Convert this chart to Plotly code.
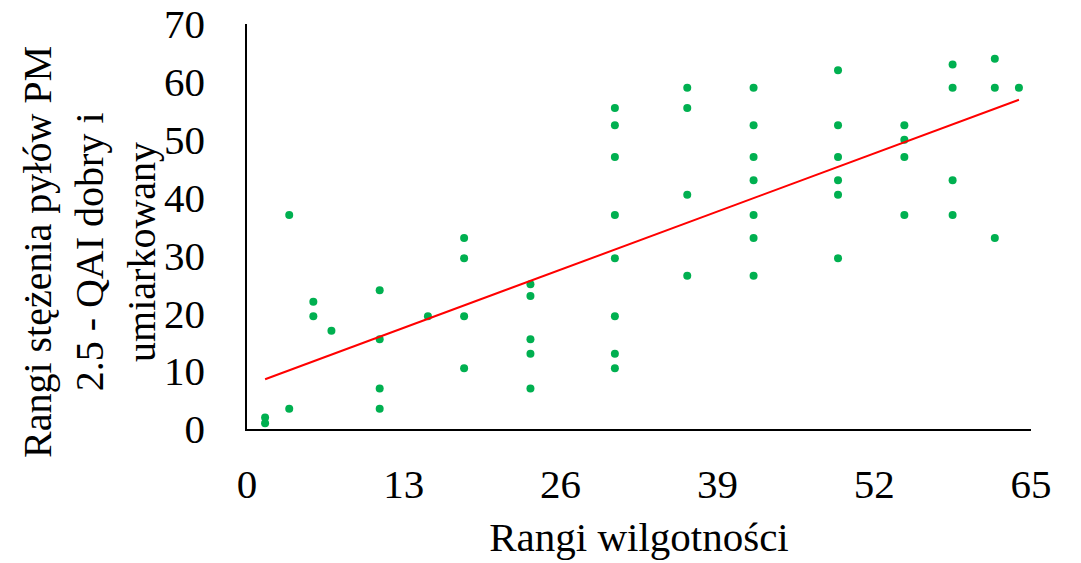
import plotly.graph_objects as go

# Data: rank pairs (x = Rangi wilgotności, y = Rangi stężenia PM2.5)
x_vals = [1.5, 1.5,
          3.5, 3.5,
          5.5, 5.5,
          7,
          11, 11, 11, 11,
          15,
          18, 18, 18, 18,
          23.5, 23.5, 23.5, 23.5, 23.5,
          30.5, 30.5, 30.5, 30.5, 30.5, 30.5, 30.5, 30.5,
          36.5, 36.5, 36.5, 36.5,
          42, 42, 42, 42, 42, 42, 42,
          49, 49, 49, 49, 49, 49,
          54.5, 54.5, 54.5, 54.5,
          58.5, 58.5, 58.5, 58.5,
          62, 62, 62,
          64]
y_vals = [2, 1,
          37, 3.5,
          22, 19.5,
          17,
          24, 15.5, 7, 3.5,
          19.5,
          33, 29.5, 19.5, 10.5,
          25, 23, 15.5, 13, 7,
          55.5, 52.5, 47, 37, 29.5, 19.5, 13, 10.5,
          59, 55.5, 40.5, 26.5,
          59, 52.5, 47, 43, 37, 33, 26.5,
          62, 52.5, 47, 43, 40.5, 29.5,
          52.5, 50, 47, 37,
          63, 59, 43, 37,
          64, 59, 33,
          59]
# Linear trend line coefficients
trend_slope = 0.773
trend_intercept = 7.44
x_ticks = [0, 13, 26, 39, 52, 65]
y_ticks = [0, 10, 20, 30, 40, 50, 60, 70]
x_title = "Rangi wilgotności"
y_title = "Rangi stężenia pyłów PM<br>2.5 - QAI dobry i<br>umiarkowany"

tx = [min(x_vals), max(x_vals)]
ty = [trend_slope * v + trend_intercept for v in tx]

FONT = "Liberation Serif"
FS = 41

fig = go.Figure()
fig.add_trace(go.Scatter(x=x_vals, y=y_vals, mode="markers",
                         marker=dict(color="#00B050", size=8),
                         showlegend=False, hoverinfo="x+y"))
fig.add_trace(go.Scatter(x=tx, y=ty, mode="lines",
                         line=dict(color="#FF0000", width=2),
                         showlegend=False, hoverinfo="skip"))

fig.update_layout(
    width=1081, height=563,
    margin=dict(l=247, r=50, t=24, b=134),
    paper_bgcolor="white", plot_bgcolor="white",
    font=dict(family=FONT, size=FS, color="black"),
    xaxis=dict(range=[0, 65], tickvals=x_ticks, ticks="", showgrid=False,
               zeroline=False, showline=True, linecolor="black", linewidth=1.5,
               ticklabelstandoff=18, automargin=False,
               tickfont=dict(family=FONT, size=FS, color="black"),
               title=dict(text=x_title, font=dict(family=FONT, size=FS, color="black"),
                          standoff=16)),
    yaxis=dict(range=[0, 70], tickvals=y_ticks, ticks="", showgrid=False,
               zeroline=False, showline=True, linecolor="black", linewidth=1.5,
               ticklabelstandoff=32, automargin=False,
               tickfont=dict(family=FONT, size=FS, color="black")),
    annotations=[dict(text=y_title, xref="paper", yref="paper",
                      x=(90 - 247) / 784, y=(429 - 252) / 405,
                      xanchor="center", yanchor="middle", textangle=-90,
                      showarrow=False,
                      font=dict(family=FONT, size=40, color="black"))],
)

fig.write_html("out.html")
